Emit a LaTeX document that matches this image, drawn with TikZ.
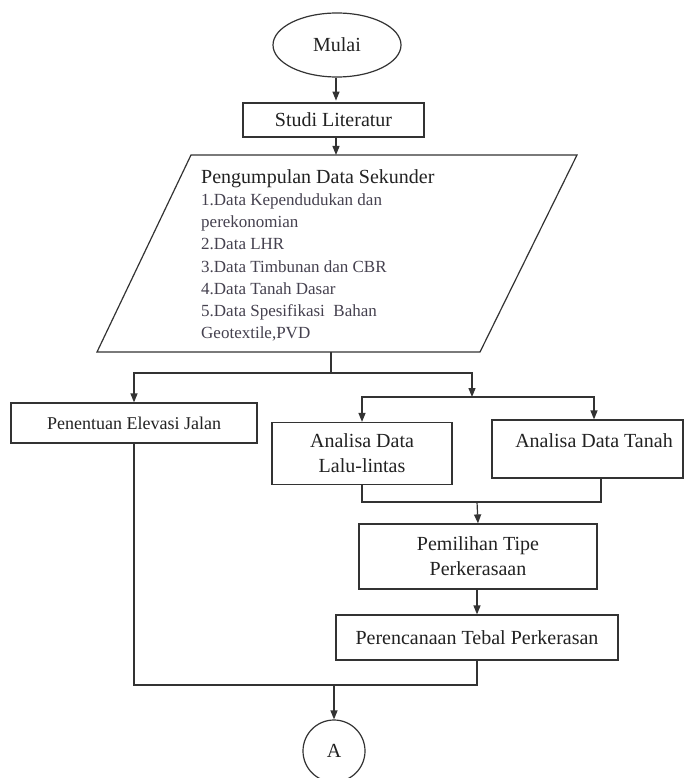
\documentclass[tikz,border=0pt]{standalone}
\usepackage{fontspec}
\setmainfont{Liberation Serif}
\usetikzlibrary{arrows.meta,shapes.geometric}
\definecolor{ln}{HTML}{333333}
\definecolor{tx}{HTML}{222222}
\definecolor{it}{HTML}{45414F}
\begin{document}
\begin{tikzpicture}[x=1pt,y=-1pt,
  line/.style={draw=ln,line width=1.2pt},
  arr/.style={line,-{Triangle[length=9pt,width=7pt,fill=ln]}},
  box/.style={draw=ln,line width=1.2pt,inner sep=0pt,align=center,text=tx,font=\fontsize{20}{25}\selectfont},
  lbl/.style={text=tx,inner sep=0pt,font=\fontsize{20}{25}\selectfont},
  itemtxt/.style={anchor=base west,text=it,inner sep=0pt,font=\fontsize{17}{21}\selectfont},
]
\useasboundingbox[fill=white] (0,0) rectangle (694,778);

% nodes
\node[box,ellipse,minimum width=128pt,minimum height=64pt] (mulai) at (337,45) {Mulai};
\node[box,minimum width=181pt,minimum height=34pt] (studi) at (333.5,120) {Studi Literatur};

% parallelogram (data input)
\draw[line] (191,155) -- (577,155) -- (480,352) -- (97,352) -- cycle;
\coordinate (pgtop) at (336,155);
\coordinate (pgbot) at (331,352);
\node[lbl,anchor=base west] (pgtitle) at (201,183) {Pengumpulan Data Sekunder};
\node[itemtxt] (it1) at (201,205) {1.Data Kependudukan dan};
\node[itemtxt] (it2) at (201,227.5) {perekonomian};
\node[itemtxt] (it3) at (201,249.5) {2.Data LHR};
\node[itemtxt] (it4) at (201,272) {3.Data Timbunan dan CBR};
\node[itemtxt] (it5) at (201,294.5) {4.Data Tanah Dasar};
\node[itemtxt] (it6) at (201,316.5) {5.Data Spesifikasi\ \ Bahan};
\node[itemtxt] (it7) at (201,338.5) {Geotextile,PVD};

\node[box,minimum width=246pt,minimum height=40pt,font=\fontsize{18}{22}\selectfont] (pen) at (134,423) {Penentuan Elevasi Jalan};
\node[box,minimum width=180pt,minimum height=62pt] (lalu) at (362,453.5) {Analisa Data\\Lalu-lintas};
\node[box,minimum width=191pt,minimum height=58pt] (tanah) at (587.5,449) {};
\node[lbl] (tanahlbl) at (594,441) {Analisa Data Tanah};
\node[box,minimum width=238pt,minimum height=65pt] (pem) at (478,556.5) {Pemilihan Tipe\\Perkerasaan};
\node[box,minimum width=282pt,minimum height=45pt] (per) at (477,637.5) {Perencanaan Tebal Perkerasan};
\node[box,circle,minimum size=62pt] (A) at (334,751) {A};

% junctions
\coordinate (j1) at (331,373);
\coordinate (j2) at (472,397);
\coordinate (j3) at (477,502);
\coordinate (j4) at (334,685);

% connectors
\draw[arr] (mulai.south -| studi.north) ++(2.5,0) -- ++(0,23);
\draw[arr] (studi.south -| pgtop) -- (pgtop);
\draw[line] (pgbot) -- (j1);
\draw[arr] (j1) -| (pen.north);
\draw[arr] (j1) -| (j2);
\draw[arr] (j2) -| (lalu.north);
\draw[arr] (j2) -| ([xshift=6.5pt]tanah.north);
\draw[line] (lalu.south) |- (j3);
\draw[line] ([xshift=13.5pt]tanah.south) |- (j3);
\draw[arr] (j3) -- (pem.north);
\draw[arr] (pem.south -| per.north) -- (per.north);
\draw[line] (pen.south) |- (j4);
\draw[line] (per.south) |- (j4);
\draw[arr] (j4) -- (A.north);
\end{tikzpicture}
\end{document}
